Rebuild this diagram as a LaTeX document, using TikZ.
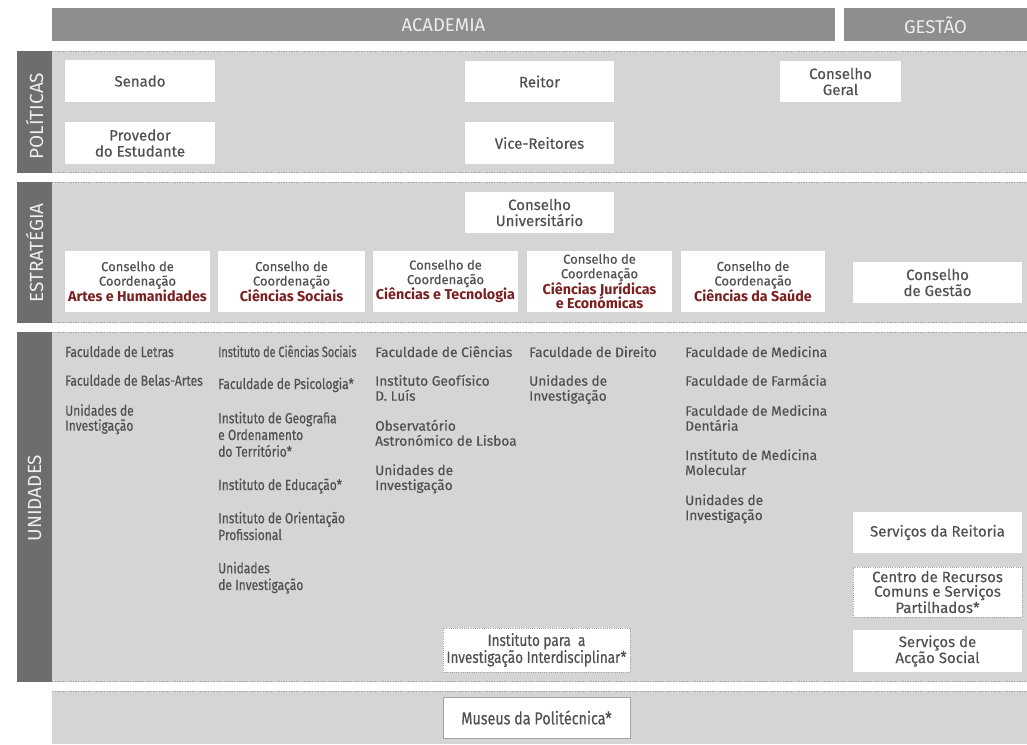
\documentclass[tikz,border=0pt]{standalone}
\usepackage{fontspec}
\setmainfont{Fira Sans}[UprightFeatures={FakeBold=0.3}]
\newfontfamily\cond{Fira Sans}[FakeStretch=0.82,FakeBold=0.3]
\newfontfamily\condx{Fira Sans}[FakeStretch=0.74,FakeBold=0.3]
\newfontfamily\hfont{Fira Sans}
\definecolor{hdr}{HTML}{8E8E8E}
\definecolor{hdrtxt}{HTML}{EDEDED}
\definecolor{band}{HTML}{D5D5D5}
\definecolor{lbl}{HTML}{6D6D6D}
\definecolor{txt}{HTML}{505050}
\definecolor{accent}{HTML}{7A2020}
\definecolor{dots}{HTML}{A3A3A3}
\newcommand\acc[1]{{\color{accent}\bfseries\fontsize{14.3}{14.5}\selectfont #1}}
\begin{document}
\begin{tikzpicture}[x=1pt,y=-1pt,
  hdrtext/.style={text=hdrtxt, inner sep=0pt, font=\hfont\fontsize{18.5}{20}\selectfont},
  sidelbl/.style={text=hdrtxt, inner sep=0pt, rotate=90, font=\hfont\fontsize{19}{20}\selectfont},
  dotline/.style={draw=dots, line width=1.3pt, dash pattern=on 1.3pt off 1.3pt},
  wbox/.style={fill=white, text=txt, align=center, inner sep=0pt, font=\fontsize{15}{16}\selectfont},
  cbox/.style={wbox, font=\fontsize{13}{14.5}\selectfont, minimum height=61pt},
  dbox/.style={wbox, draw=dots, line width=0.9pt, dash pattern=on 1pt off 1.2pt},
  lst/.style={anchor=base west, align=left, inner sep=0pt, text=txt, font=\fontsize{13.7}{15}\selectfont},
  lstc/.style={lst, font=\cond\fontsize{14.7}{15}\selectfont},
  lstd/.style={lst, font=\cond\fontsize{14.7}{16.7}\selectfont}]
\useasboundingbox (0,0) rectangle (1027,744);
% header bars
\fill[hdr] (52,8) rectangle (835,41);
\fill[hdr] (844,8) rectangle (1027,41);
\node[hdrtext] (academia) at (443.5,25) {ACADEMIA};
\node[hdrtext] (gestao) at (935.5,25) {GESTÃO};
% bands
\foreach \t/\b in {51/173,182/323,332/682}{
  \fill[band] (52,\t) rectangle (1027,\b);
  \fill[lbl] (17,\t) rectangle (52,\b);
  \draw[dotline] (52,\t+0.8) -- (1027,\t+0.8);
  \draw[dotline] (52,\b-0.8) -- (1027,\b-0.8);
}
\fill[band] (52,691) rectangle (1027,744);
\draw[dotline] (52,691.8) -- (1027,691.8);
\node[sidelbl] (pol) at (34.5,116) {POLÍTICAS};
\node[sidelbl] (est) at (34.5,253) {ESTRATÉGIA};
\node[sidelbl] (uni) at (34.5,498) {UNIDADES};
% POLITICAS
\node[wbox, minimum width=150pt, minimum height=42pt] (senado) at (140,81) {Senado};
\node[wbox, minimum width=150pt, minimum height=42pt] (provedor) at (140,143) {Provedor\\do Estudante};
\node[wbox, minimum width=149pt, minimum height=41pt] (reitor) at (539.5,81.5) {Reitor};
\node[wbox, minimum width=149pt, minimum height=42pt] (vice) at (539.5,143) {Vice-Reitores};
\node[wbox, minimum width=121pt, minimum height=41pt] (cgeral) at (840.5,81.5) {Conselho\\Geral};
% ESTRATEGIA
\node[wbox, minimum width=149pt, minimum height=41pt] (cuniv) at (539.5,212.5) {Conselho\\Universitário};
\node[cbox, minimum width=145pt] (ccah) at (137.5,281.5) {Conselho de\\Coordenação\\\acc{Artes e Humanidades}};
\node[cbox, minimum width=147pt] (ccsoc) at (291.5,281.5) {Conselho de\\Coordenação\\\acc{Ciências Sociais}};
\node[cbox, minimum width=145pt] (cctec) at (445.5,281.5) {Conselho de\\Coordenação\\\acc{Ciências e Tecnologia}};
\node[cbox, minimum width=145pt] (ccjur) at (599.5,281.5) {Conselho de\\Coordenação\\\acc{Ciências Jurídicas}\\\acc{e Económicas}};
\node[cbox, minimum width=144pt] (ccsau) at (753,281.5) {Conselho de\\Coordenação\\\acc{Ciências da Saúde}};
\node[wbox, minimum width=169pt, minimum height=41pt] (cgest) at (937.5,282.5) {Conselho\\de Gestão};
% UNIDADES lists (anchor = baseline of last line)
\node[lstc] (l1a) at (65,357) {Faculdade de Letras};
\node[lstc] (l1b) at (65,385.7) {Faculdade de Belas-Artes};
\node[lstc] (l1c) at (65,430.7) {Unidades de\\Investigação};
\node[lstc, font=\condx\fontsize{14.7}{15}\selectfont] (l2a) at (218,357) {Instituto de Ciências Sociais};
\node[lstc] (l2b) at (218,389) {Faculdade de Psicologia*};
\node[lstd] (l2c) at (218,456.7) {Instituto de Geografia\\e Ordenamento\\do Território*};
\node[lstc] (l2d) at (218,490) {Instituto de Educação*};
\node[lstd] (l2e) at (218,540) {Instituto de Orientação\\Profissional};
\node[lstd] (l2f) at (218,590) {Unidades\\de Investigação};
\node[lst] (l3a) at (375,357) {Faculdade de Ciências};
\node[lst] (l3b) at (375,400.7) {Instituto Geofísico\\D. Luís};
\node[lst] (l3c) at (375,445.7) {Observatório\\Astronómico de Lisboa};
\node[lst] (l3d) at (375,490) {Unidades de\\Investigação};
\node[lst] (l4a) at (529,357) {Faculdade de Direito};
\node[lst] (l4b) at (529,400.7) {Unidades de\\Investigação};
\node[lst] (l5a) at (685,357) {Faculdade de Medicina};
\node[lst] (l5b) at (685,385.7) {Faculdade de Farmácia};
\node[lst] (l5c) at (685,430.7) {Faculdade de Medicina\\Dentária};
\node[lst] (l5d) at (685,475) {Instituto de Medicina\\Molecular};
\node[lst] (l5e) at (685,520) {Unidades de\\Investigação};
% GESTAO column
\node[wbox, minimum width=169pt, minimum height=41pt] (sreit) at (937.5,532.5) {Serviços da Reitoria};
\node[dbox, minimum width=169pt, minimum height=50pt, font=\fontsize{15}{14.5}\selectfont] (centro) at (937.5,592) {Centro de Recursos\\Comuns e Serviços\\Partilhados*};
\node[wbox, minimum width=169pt, minimum height=42pt] (sas) at (937.5,651) {Serviços de\\Acção Social};
\node[dbox, minimum width=187pt, minimum height=44pt, font=\cond\fontsize{16.5}{17}\selectfont] (iii) at (536.5,650) {Instituto para \ a\\Investigação Interdisciplinar*};
\node[wbox, draw=dots, line width=0.9pt, minimum width=187pt, minimum height=41pt, font=\cond\fontsize{17.5}{18}\selectfont] (museus) at (536.5,717.5) {Museus da Politécnica*};
\end{tikzpicture}
\end{document}
